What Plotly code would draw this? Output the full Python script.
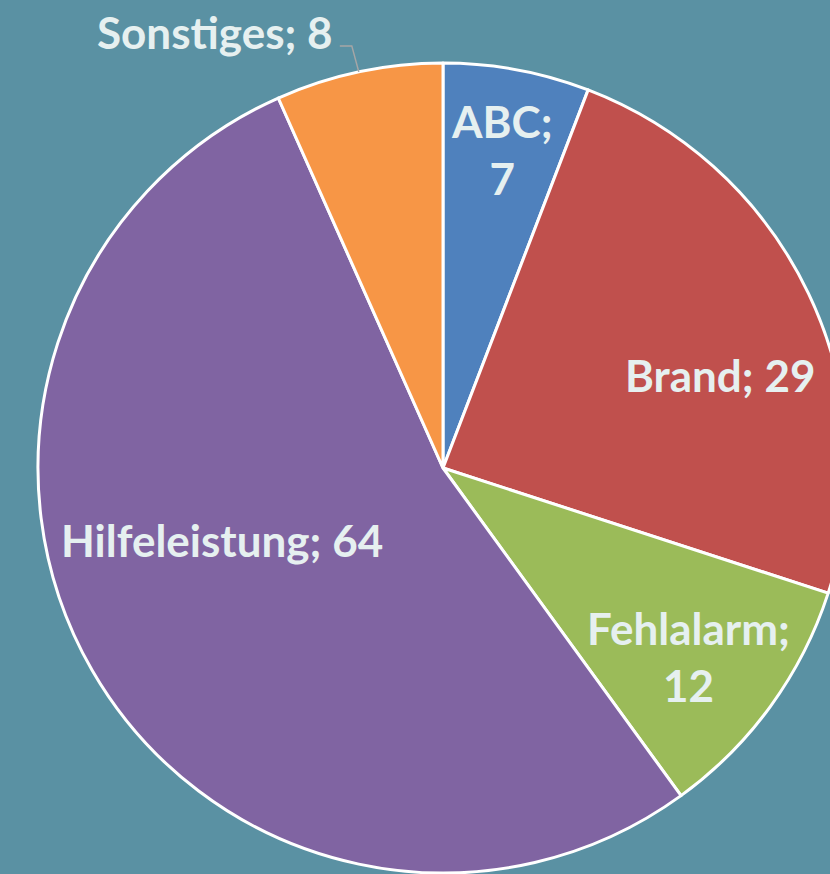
import math
import plotly.graph_objects as go

categories = ["ABC", "Brand", "Fehlalarm", "Hilfeleistung", "Sonstiges"]
values = [7, 29, 12, 64, 8]
label_breaks = [";<br>", "; ", ";<br>", "; ", "; "]
colors = ["#4F81BD", "#C0504D", "#9BBB59", "#8064A2", "#F79646"]

# label placement style (radial fraction of radius, angular nudge in degrees)
label_radius = [0.80, 0.72, 0.765, 0.575, 1.215]
label_nudge = [0.0, 7.0, 1.5, 12.0, -15.6]

texts = [f"{c}{b}{v}" for c, b, v in zip(categories, label_breaks, values)]

W, H = 886, 874
cx, cy, r = 443, 468, 405
FONT = dict(family="Lato", size=44, color="#E6F0F0", weight="bold")

fig = go.Figure(go.Pie(
    labels=categories,
    values=values,
    textinfo="none",
    sort=False,
    direction="clockwise",
    rotation=0,
    marker=dict(colors=colors, line=dict(color="white", width=3)),
    domain=dict(x=[(cx - r) / W, (cx + r) / W], y=[1 - (cy + r) / H, 1 - (cy - r) / H]),
    showlegend=False,
    hoverinfo="label+value",
))

total = sum(values)
cum = 0.0
for i, (t, v) in enumerate(zip(texts, values)):
    mid = (cum + v / 2) / total * 360.0
    cum += v
    ang = math.radians(mid + label_nudge[i])
    px = cx + label_radius[i] * r * math.sin(ang)
    py = cy - label_radius[i] * r * math.cos(ang)
    fig.add_annotation(
        x=px / W, y=1 - py / H, xref="paper", yref="paper",
        text=t, showarrow=False, font=FONT, align="center",
        xanchor="center", yanchor="middle",
    )
    if i == len(values) - 1:
        # leader line from slice edge to outside label
        ma = math.radians(mid)
        ex = cx + r * math.sin(ma)
        ey = cy - r * math.cos(ma)
        ky = py + 14
        path = (f"M {ex / W},{1 - ey / H} L {(ex - 7) / W},{1 - ky / H} "
                f"L {(ex - 19) / W},{1 - ky / H}")
        fig.add_shape(type="path", path=path, xref="paper", yref="paper",
                      line=dict(color="#A6A6A6", width=1.5))

fig.update_layout(
    width=W, height=H,
    margin=dict(l=0, r=0, t=0, b=0),
    paper_bgcolor="#5A91A3",
    plot_bgcolor="#5A91A3",
)

fig.write_html(
    "out.html",
    post_script="document.body.style.margin='0';document.body.style.overflow='hidden';"
                "document.documentElement.style.overflow='hidden';"
                "document.body.style.background='#5A91A3';",
)
